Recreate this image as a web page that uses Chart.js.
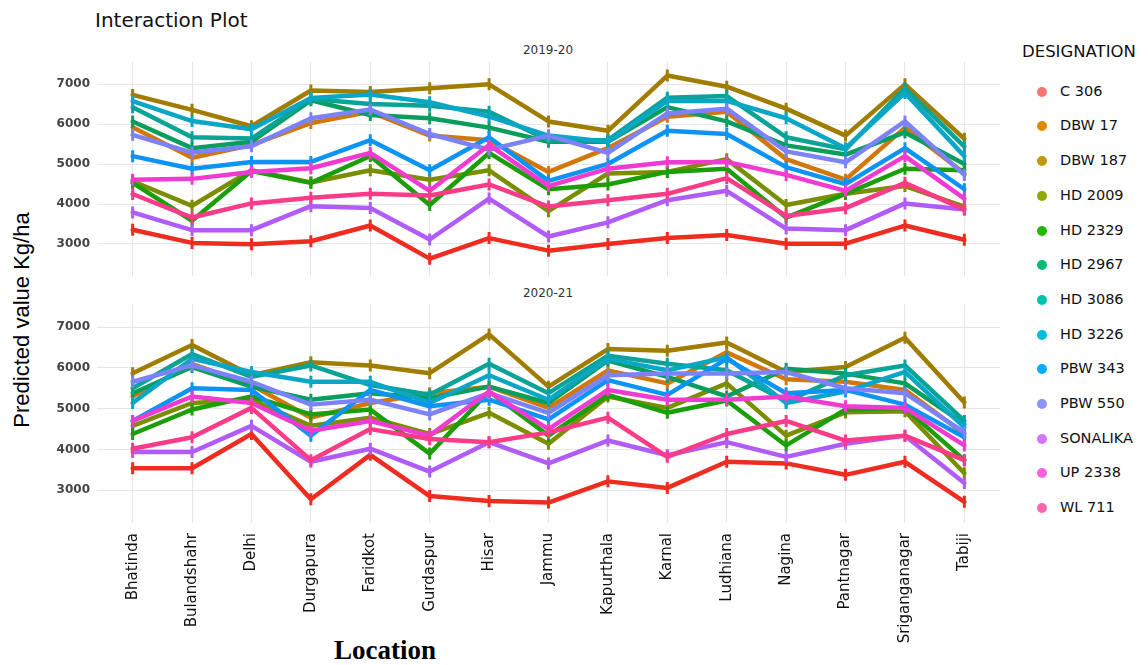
<!DOCTYPE html>
<html>
<head>
<meta charset="utf-8">
<script src="https://cdn.jsdelivr.net/npm/chart.js@4.4.1/dist/chart.umd.min.js"></script>
<style>
  body { margin: 0; background: #fff; }
  #wrap { position: relative; width: 1148px; height: 665px; overflow: hidden; font-family: 'DejaVu Sans', sans-serif; }
  canvas { position: absolute; left: 0; }
  .t { position: absolute; white-space: nowrap; line-height: 1.2; }
  .strip { font-size: 12px; color: #333; transform: translateX(-50%); }
</style>
</head>
<body>
<div id="wrap">
  <div class="t" style="left:95px;top:8px;font-size:20px;color:#111">Interaction Plot</div>
  <div class="t strip" style="left:548px;top:43px">2019-20</div>
  <div class="t strip" style="left:548px;top:286px">2020-21</div>
  <div class="t" style="left:22px;top:320px;font:22px 'Liberation Sans',Arial,sans-serif;color:#000;transform:translate(-50%,-50%) rotate(-90deg)">Predicted value Kg/ha</div>
  <div class="t" style="left:385px;top:637px;font:bold 27px 'Liberation Serif',serif;line-height:1;color:#000;transform:translateX(-50%)">Location</div>
  <div class="t" style="left:1022px;top:42px;font-size:16.5px;color:#111">DESIGNATION</div>
  <div id="legend"></div>
  <canvas id="top" width="1010" height="290" style="top:0"></canvas>
  <canvas id="bot" width="1010" height="375" style="top:290px"></canvas>
</div>
<script>
// locations (x categories)
const locations = ['Bhatinda','Bulandshahr','Delhi','Durgapura','Faridkot','Gurdaspur','Hisar','Jammu',
  'Kapurthala','Karnal','Ludhiana','Nagina','Pantnagar','Sriganganagar','Tabiji'];
const varieties = ['C 306','DBW 17','DBW 187','HD 2009','HD 2329','HD 2967','HD 3086','HD 3226',
  'PBW 343','PBW 550','SONALIKA','UP 2338','WL 711'];
const yTicks = [3000, 4000, 5000, 6000, 7000];

// legend dot colours (ggplot hue) and line colours as seen in the plot
const dotColors = ['#F8766D','#E18A00','#BE9C00','#8CAB00','#24B700','#00BE70','#00C1AB','#00BBDA',
  '#00ACFC','#8B93FF','#D575FE','#F962DD','#FF65AC'];
const lineColors = ['#EE2C1F','#D2770A','#A07D00','#7A8E00','#1C9E0A','#0A9E5E','#0AA396','#0AA6C6',
  '#0C94F5','#7C82FA','#B15CF8','#F03BD2','#FA3C88'];

// 2019-20
const y19_C306    = [3355,3025,2990,3065,3460,2630,3145,2830,2995,3145,3225,3005,3005,3460,3105];
const y19_DBW17   = [5925,5160,5480,6030,6310,5715,5600,4805,5400,6190,6310,5125,4610,5915,4770];
const y19_DBW187  = [6735,6360,5950,6845,6805,6900,7000,6070,5835,7220,6940,6390,5715,7000,5635];
const y19_HD2009  = [4570,3955,4845,4540,4845,4610,4845,3820,4765,4805,5125,3975,4255,4450,3935];
const y19_HD2329  = [4530,3580,4825,4530,5205,3975,5280,4370,4490,4805,4885,3660,4255,4885,4845];
const y19_HD2967  = [6070,5400,5560,6600,6230,6150,5915,5560,5560,6430,6070,5470,5240,5795,5005];
const y19_HD3086  = [6425,5675,5640,6635,6505,6465,6310,5600,5600,6665,6705,5675,5370,6900,5440];
const y19_HD3226  = [6580,6080,5875,6655,6745,6550,6190,5715,5560,6585,6585,6150,5400,6785,5200];
const y19_PBW343  = [5200,4885,5055,5055,5600,4845,5675,4580,5005,5835,5755,4925,4500,5400,4370];
const y19_PBW550  = [5735,5290,5450,6150,6370,5755,5360,5715,5280,6270,6390,5320,5045,6070,4730];
const y19_SONALIKA= [3790,3345,3345,3945,3900,3110,4135,3185,3540,4095,4330,3385,3345,4015,3860];
const y19_UP2338  = [4605,4630,4805,4895,5280,4330,5480,4450,4885,5045,5055,4730,4330,5200,4135];
const y19_WL711   = [4250,3660,4015,4155,4255,4215,4490,3935,4095,4255,4650,3700,3895,4530,3860];

// 2020-21
const y20_C306    = [3540,3540,4380,2780,3870,2860,2740,2700,3220,3060,3700,3660,3380,3700,2720];
const y20_DBW17   = [5300,6100,5580,4780,5140,5380,5540,5020,5940,5620,6380,5720,5660,5460,4380];
const y20_DBW187  = [5870,6560,5820,6140,6060,5870,6820,5540,6460,6420,6620,5900,6020,6740,5150];
const y20_HD2009  = [4580,5140,5220,4580,4780,4380,4900,4140,5300,5020,5620,4340,4910,4940,3420];
const y20_HD2329  = [4380,4980,5300,4860,4980,3900,5420,4340,5340,4900,5200,4100,4980,5020,3740];
const y20_HD2967  = [5380,6020,5540,5220,5380,5260,5540,5140,6180,5780,5300,5980,5860,5620,4620];
const y20_HD3086  = [5500,6340,5780,6060,5580,5340,6100,5380,6300,6100,5940,5180,5820,6060,4700];
const y20_HD3226  = [5140,6220,5900,5660,5660,5140,5820,5220,6220,5940,6260,5140,5420,5900,4540];
const y20_PBW343  = [4700,5500,5460,4340,5460,5060,5220,4740,5700,5340,6220,5380,5460,5100,4300];
const y20_PBW550  = [5660,6060,5660,5100,5220,4860,5380,4900,5820,5860,5860,5900,5500,5380,4420];
const y20_SONALIKA= [3940,3940,4580,3700,4020,3460,4180,3660,4220,3860,4180,3820,4140,4340,3180];
const y20_UP2338  = [4700,5300,5140,4460,4700,4340,5420,4500,5460,5220,5220,5300,5060,5020,4100];
const y20_WL711   = [4020,4300,5020,3740,4500,4260,4180,4420,4780,3820,4380,4700,4220,4340,3740];

const series19 = [y19_C306,y19_DBW17,y19_DBW187,y19_HD2009,y19_HD2329,y19_HD2967,y19_HD3086,
  y19_HD3226,y19_PBW343,y19_PBW550,y19_SONALIKA,y19_UP2338,y19_WL711];
const series20 = [y20_C306,y20_DBW17,y20_DBW187,y20_HD2009,y20_HD2329,y20_HD2967,y20_HD3086,
  y20_HD3226,y20_PBW343,y20_PBW550,y20_SONALIKA,y20_UP2338,y20_WL711];

const fam = "'DejaVu Sans', sans-serif";
const gridCol = '#e6e6e6';

function makeSets(series) {
  return series.map((vals, i) => ({
    label: varieties[i],
    data: vals.map((v, j) => ({ x: j, y: v })),
    borderColor: lineColors[i],
    backgroundColor: lineColors[i],
    borderWidth: 4.5,
    borderJoinStyle: 'round',
    borderCapStyle: 'round',
    pointStyle: 'line',
    pointRotation: 90,
    pointRadius: 6,
    pointBorderWidth: 3,
    tension: 0,
    order: series.length - i
  }));
}

function makePanel(id, series, showX) {
  new Chart(document.getElementById(id), {
    type: 'line',
    data: { datasets: makeSets(series) },
    options: {
      responsive: false,
      animation: false,
      devicePixelRatio: 1,
      layout: { padding: showX ? { top: 8, right: 10, bottom: 0, left: 0 } : { top: 62, right: 10, bottom: 3, left: 0 } },
      plugins: { legend: { display: false }, tooltip: { enabled: false } },
      scales: {
        x: {
          type: 'linear', min: -0.6, max: 14.6,
          afterBuildTicks: s => { s.ticks = locations.map((_, i) => ({ value: i })); },
          afterFit: s => { s.height = showX ? 142 : 0; },
          grid: { color: gridCol, drawTicks: false },
          border: { display: false },
          ticks: {
            display: showX, autoSkip: false, minRotation: 90, maxRotation: 90, padding: 10,
            color: '#111', font: { family: fam, size: 15 },
            callback: v => locations[v]
          }
        },
        y: {
          min: 2200, max: 7560,
          afterBuildTicks: s => { s.ticks = yTicks.map(v => ({ value: v })); },
          afterFit: s => { s.width = 97; },
          grid: { color: gridCol, drawTicks: false },
          border: { display: false },
          ticks: {
            padding: 7, color: '#444', font: { family: fam, size: 12, weight: 'bold' },
            callback: v => String(v)
          }
        }
      }
    }
  });
}

makePanel('top', series19, false);
makePanel('bot', series20, true);

// legend on the right
const lg = document.getElementById('legend');
varieties.forEach((name, i) => {
  const cy = 91.7 + i * 34.7;
  const dot = document.createElement('div');
  dot.style.cssText = `position:absolute;left:1037px;top:${cy - 5}px;width:10px;height:10px;border-radius:50%;background:${dotColors[i]}`;
  lg.appendChild(dot);
  const tx = document.createElement('div');
  tx.className = 't';
  tx.style.cssText = `left:1060px;top:${cy - 9}px;font-size:14.5px;color:#111`;
  tx.textContent = name;
  lg.appendChild(tx);
});
</script>
</body>
</html>
